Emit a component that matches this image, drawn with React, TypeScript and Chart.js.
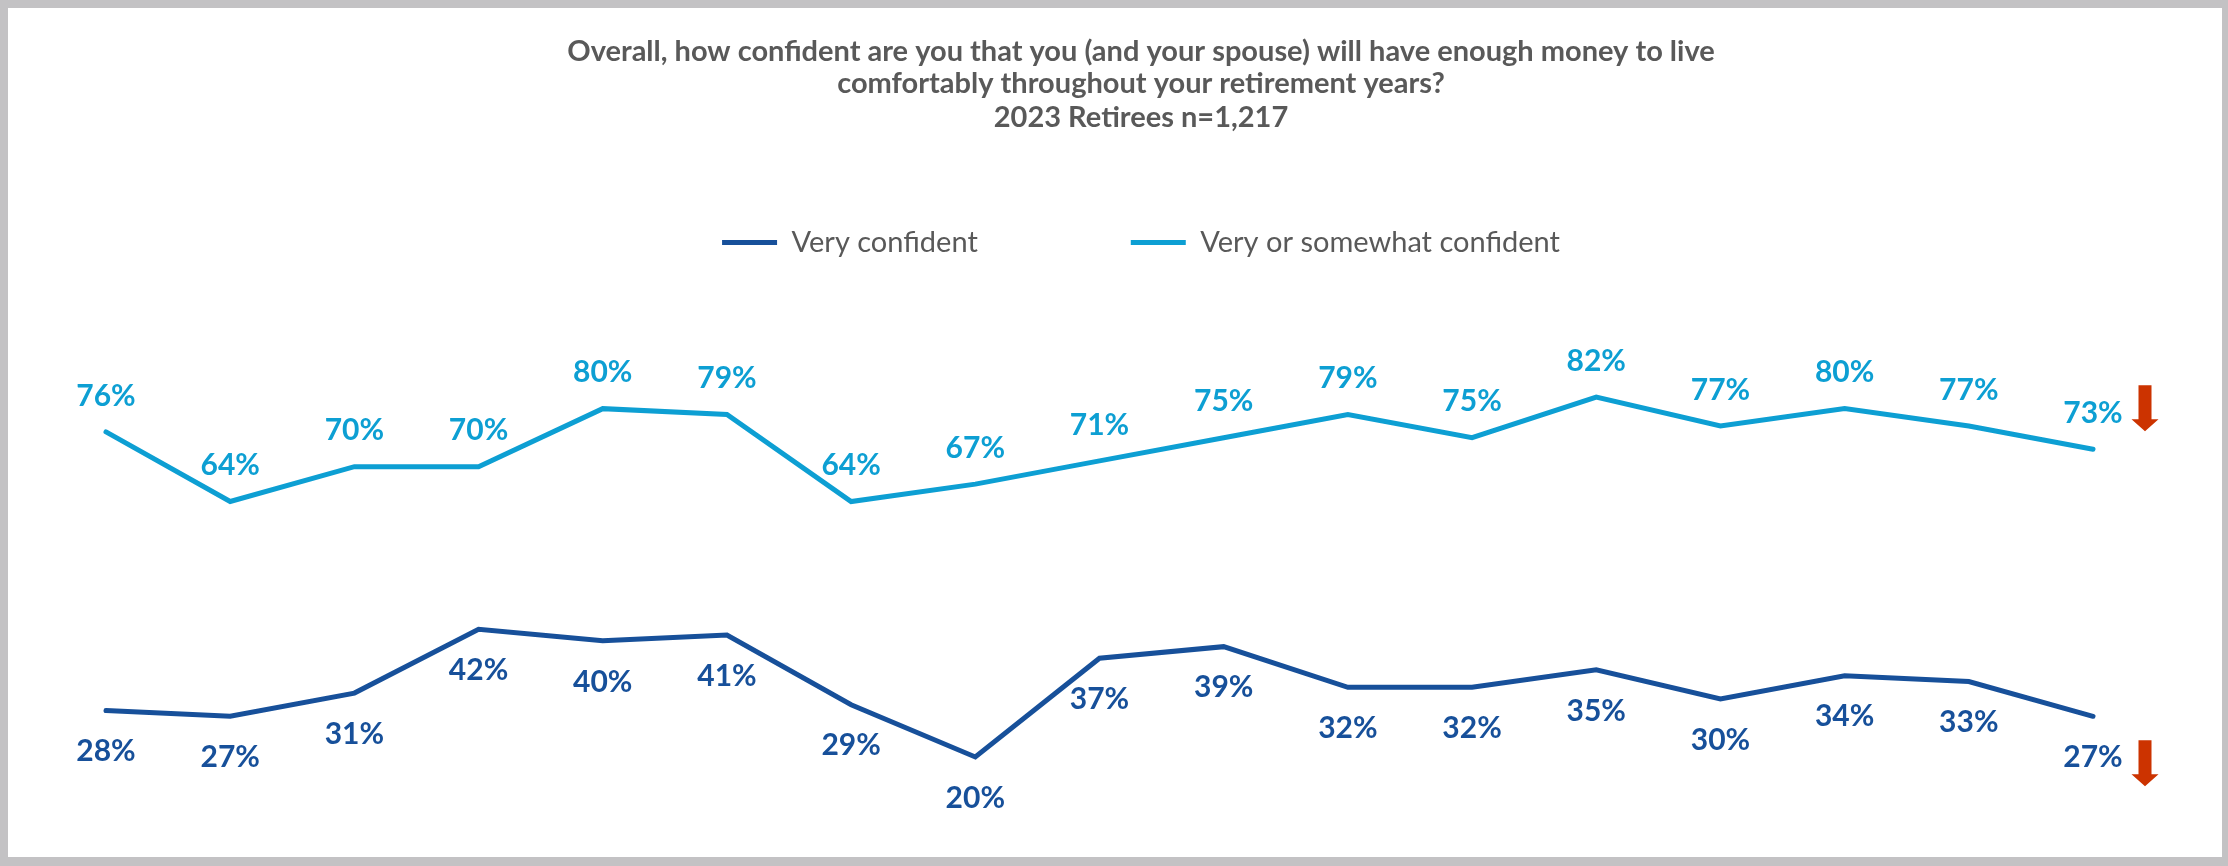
import React, { useEffect, useRef } from "react";
import { Chart, registerables } from "chart.js";

Chart.register(...registerables);

// ---------- data ----------
const CATEGORIES = [
  "2007", "2008", "2009", "2010", "2011", "2012", "2013", "2014", "2015",
  "2016", "2017", "2018", "2019", "2020", "2021", "2022", "2023",
];
const SERIES_NAMES = ["Very confident", "Very or somewhat confident"];
const VERY_CONFIDENT = [28, 27, 31, 42, 40, 41, 29, 20, 37, 39, 32, 32, 35, 30, 34, 33, 27];
const VERY_OR_SOMEWHAT = [76, 64, 70, 70, 80, 79, 64, 67, 71, 75, 79, 75, 82, 77, 80, 77, 73];
const TITLE_LINES = [
  "Overall, how confident are you that you (and your spouse) will have enough money to live",
  "comfortably throughout your retirement years?",
];
const SUBTITLE = "2023 Retirees n=1,217";

// ---------- styles ----------
const DARK_BLUE = "#17509a";
const LIGHT_BLUE = "#0d9fd3";
const TEXT_GRAY = "#595959";
const ARROW_RED = "#cc3300";
const FONT = "Lato";

const labelPlugin = {
  id: "pctLabels",
  afterDatasetsDraw(chart: any) {
    const ctx = chart.ctx;
    ctx.save();
    ctx.font = `bold 30px ${FONT}`;
    ctx.textAlign = "center";
    ctx.textBaseline = "middle";
    chart.data.datasets.forEach((ds: any, di: number) => {
      const meta = chart.getDatasetMeta(di);
      const below = di === 0;
      const dy = below ? 41 : -36;
      ctx.fillStyle = ds.borderColor;
      meta.data.forEach((pt: any, i: number) => {
        ctx.fillText(`${ds.data[i]}%`, pt.x, pt.y + dy);
      });
      // decline arrow next to the latest value
      const last = meta.data[meta.data.length - 1];
      if (!last) return;
      const ax = last.x + 52;
      const top = below ? last.y + 24 : last.y - 64;
      const h = 46;
      const shaft = 6.5;
      const head = 13.5;
      const headH = 12;
      ctx.fillStyle = ARROW_RED;
      ctx.beginPath();
      ctx.moveTo(ax - shaft, top);
      ctx.lineTo(ax + shaft, top);
      ctx.lineTo(ax + shaft, top + h - headH);
      ctx.lineTo(ax + head, top + h - headH);
      ctx.lineTo(ax, top + h);
      ctx.lineTo(ax - head, top + h - headH);
      ctx.lineTo(ax - shaft, top + h - headH);
      ctx.closePath();
      ctx.fill();
    });
    ctx.restore();
  },
};

export default function App() {
  const canvasRef = useRef<HTMLCanvasElement | null>(null);

  useEffect(() => {
    if (!canvasRef.current) return;
    const chart = new Chart(canvasRef.current, {
      type: "line",
      data: {
        labels: CATEGORIES,
        datasets: [
          {
            label: SERIES_NAMES[0],
            data: VERY_CONFIDENT,
            borderColor: DARK_BLUE,
            backgroundColor: DARK_BLUE,
            borderWidth: 5,
            pointRadius: 0,
            pointHoverRadius: 0,
            tension: 0,
            fill: false,
            borderCapStyle: "round",
            borderJoinStyle: "miter",
            clip: false as any,
          },
          {
            label: SERIES_NAMES[1],
            data: VERY_OR_SOMEWHAT,
            borderColor: LIGHT_BLUE,
            backgroundColor: LIGHT_BLUE,
            borderWidth: 5,
            pointRadius: 0,
            pointHoverRadius: 0,
            tension: 0,
            fill: false,
            borderCapStyle: "round",
            borderJoinStyle: "miter",
            clip: false as any,
          },
        ],
      },
      options: {
        responsive: false,
        animation: false,
        events: [],
        layout: { padding: { left: 98, right: 46, top: 0, bottom: 42 } },
        plugins: {
          title: {
            display: true,
            text: TITLE_LINES,
            color: TEXT_GRAY,
            font: { family: FONT, size: 29, weight: "bold", lineHeight: 32 / 29 },
            padding: { top: 28, bottom: 3 },
          },
          subtitle: {
            display: true,
            text: SUBTITLE,
            color: TEXT_GRAY,
            font: { family: FONT, size: 29, weight: "bold", lineHeight: 30 / 29 },
            padding: { top: 0, bottom: 0 },
          },
          legend: {
            display: true,
            position: "top",
            labels: {
              usePointStyle: true,
              pointStyle: "line",
              pointStyleWidth: 55,
              padding: 95,
              color: TEXT_GRAY,
              font: { family: FONT, size: 29 },
              generateLabels: (c: any) => {
                const items = (Chart.defaults.plugins.legend.labels as any).generateLabels(c);
                if (items[0]) items[0].text = items[0].text + "\u2003\u2003\u2002";
                return items;
              },
            },
          },
          tooltip: { enabled: false },
        },
        scales: {
          x: { display: false, offset: false },
          y: {
            position: "right",
            min: 10,
            max: 104.4,
            ticks: { display: false },
            grid: { display: false },
            border: { display: false },
            afterFit: (s: any) => {
              s.width = 83;
            },
          },
        },
      },
      plugins: [labelPlugin],
    } as any);

    let alive = true;
    (document as any).fonts
      ?.load?.(`bold 30px ${FONT}`)
      .then(() => (document as any).fonts.load(`29px ${FONT}`))
      .then(() => {
        if (alive) chart.update();
      })
      .catch(() => {});

    return () => {
      alive = false;
      chart.destroy();
    };
  }, []);

  return (
    <div style={{ position: "fixed", inset: 0, background: "#c3c2c4", overflow: "hidden" }}>
      <div
        style={{
          position: "absolute",
          left: 8,
          top: 8,
          width: 2214,
          height: 849,
          background: "#ffffff",
        }}
      >
        <canvas ref={canvasRef} width={2214} height={849} style={{ display: "block" }} />
      </div>
    </div>
  );
}
